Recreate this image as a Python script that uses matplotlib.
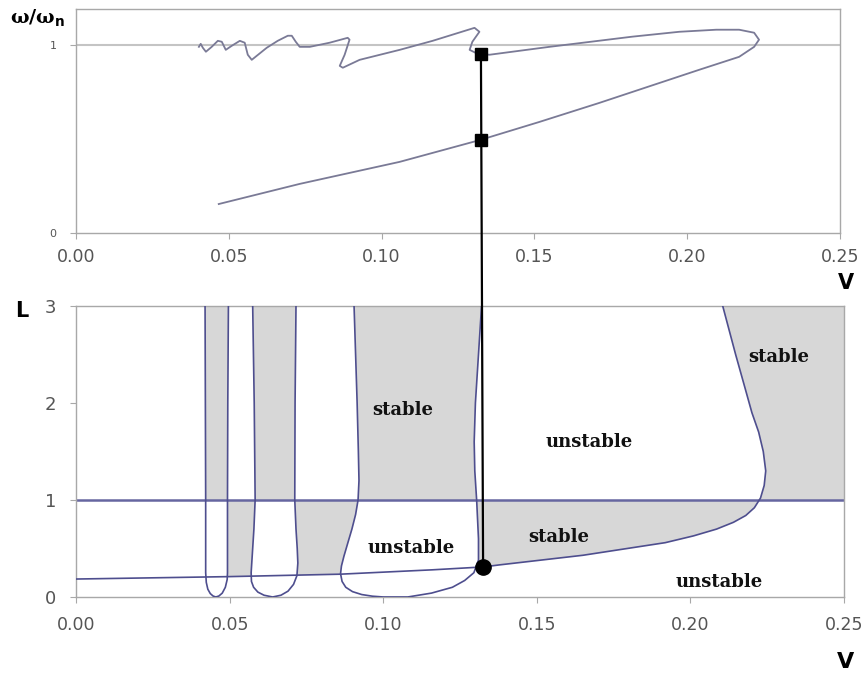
import numpy as np
import matplotlib
matplotlib.use('Agg')
import matplotlib.pyplot as plt
from matplotlib.patches import ConnectionPatch, Polygon

# top chart: w/wn along the loop (one path)
freq_V = [0.0467, 0.0732, 0.1059, 0.1324, 0.1516, 0.1712, 0.2039, 0.2170, 0.2219, 0.2235,
          0.2219, 0.2170, 0.2095, 0.1974, 0.1820, 0.1549, 0.1353, 0.1314, 0.1288, 0.1297,
          0.1320, 0.1304, 0.1167, 0.1059, 0.0928, 0.0873, 0.0863, 0.0879, 0.0895, 0.0889,
          0.0830, 0.0765, 0.0732, 0.0719, 0.0706, 0.0693, 0.0660, 0.0624, 0.0575, 0.0562,
          0.0552, 0.0536, 0.0510, 0.0490, 0.0477, 0.0464, 0.0444, 0.0425, 0.0415, 0.0408, 0.0402]
freq_w = [0.154, 0.261, 0.378, 0.495, 0.590, 0.691, 0.867, 0.936, 0.989, 1.027,
          1.064, 1.080, 1.080, 1.069, 1.043, 0.989, 0.947, 0.952, 0.973, 1.016,
          1.069, 1.090, 1.021, 0.973, 0.920, 0.878, 0.888, 0.947, 1.027, 1.037,
          1.011, 0.989, 0.989, 1.016, 1.048, 1.048, 1.021, 0.984, 0.920, 0.947,
          1.011, 1.021, 0.995, 0.973, 1.016, 1.021, 0.989, 0.963, 0.984, 1.005, 0.989]

# critical point
crit_V = 0.1325
crit_w = [0.95, 0.495]
crit_L = 0.31

# bottom chart: stability boundaries in the V-L plane
loop1_V = [0.0420, 0.0421, 0.0422, 0.0422, 0.0424, 0.0429, 0.0437, 0.0446, 0.0455, 0.0465,
           0.0476, 0.0486, 0.0492, 0.0493, 0.0493, 0.0494, 0.0496]
loop1_L = [3.0, 2.0, 1.0, 0.25, 0.15, 0.08, 0.035, 0.01, 0.0, 0.01, 0.04, 0.10, 0.18, 0.25,
           1.0, 2.0, 3.0]

loop2_V = [0.0575, 0.0580, 0.0583, 0.0579, 0.0574, 0.0570, 0.0571, 0.0578, 0.0592, 0.0612,
           0.0640, 0.0667, 0.0690, 0.0708, 0.0719, 0.0722, 0.0720, 0.0716, 0.0712, 0.0713,
           0.0716]
loop2_L = [3.0, 2.0, 1.0, 0.7, 0.45, 0.25, 0.16, 0.10, 0.05, 0.018, 0.0, 0.018, 0.06, 0.13,
           0.22, 0.35, 0.5, 0.7, 1.0, 2.0, 3.0]

loop3_V = [0.0905, 0.0910, 0.0915, 0.0919, 0.0921, 0.0918, 0.0910, 0.0898, 0.0884, 0.0872,
           0.0864, 0.0861, 0.0866, 0.0878, 0.0900, 0.0930, 0.0965, 0.1000, 0.1080, 0.1157,
           0.1225, 0.1265, 0.1295, 0.1310, 0.1310, 0.1304, 0.1298, 0.1296, 0.1300, 0.1310,
           0.1320]
loop3_L = [3.0, 2.5, 2.0, 1.5, 1.2, 1.0, 0.85, 0.7, 0.55, 0.42, 0.32, 0.24, 0.16, 0.10,
           0.055, 0.025, 0.008, 0.0, 0.0, 0.04, 0.1, 0.17, 0.25, 0.38, 0.6, 1.0, 1.3, 1.6,
           2.0, 2.5, 3.0]

bound_V = [0.0, 0.05, 0.086, 0.116, 0.1327, 0.1376, 0.165, 0.1918, 0.2010, 0.2085, 0.2140,
           0.2180, 0.2208, 0.2228, 0.2240, 0.2245, 0.2237, 0.2222, 0.2200, 0.2178, 0.2147,
           0.2105]
bound_L = [0.185, 0.21, 0.235, 0.28, 0.31, 0.33, 0.43, 0.56, 0.63, 0.70, 0.77, 0.84, 0.92,
           1.02, 1.15, 1.3, 1.5, 1.7, 1.9, 2.15, 2.5, 3.0]

L_line = 1.0

labels = [("stable", 0.1065, 1.93), ("unstable", 0.1670, 1.60), ("stable", 0.2288, 2.47),
          ("unstable", 0.1092, 0.505), ("stable", 0.1572, 0.62), ("unstable", 0.2095, 0.155)]

x_ticks = [0.00, 0.05, 0.10, 0.15, 0.20, 0.25]

BND = np.array(bound_V), np.array(bound_L)


def branches(V, L):
    i = int(np.argmin(L))
    left = (np.array(V[:i + 1])[::-1], np.array(L[:i + 1])[::-1])
    right = (np.array(V[i:]), np.array(L[i:]))
    return left, right


def seg(br, lo, hi):
    V, L = br
    m = (L > lo) & (L < hi)
    Ls = np.concatenate([[lo], L[m], [hi]])
    Vs = np.concatenate([[np.interp(lo, L, V)], V[m], [np.interp(hi, L, V)]])
    return np.column_stack([Vs, Ls])


def meet(br):
    # L where a branch crosses the lower boundary line
    V, L = br
    l = 0.25
    for _ in range(6):
        l = np.interp(np.interp(l, L, V), BND[0], BND[1])
    return l


fig = plt.figure(figsize=(8.65, 6.77), dpi=100)
ax1 = fig.add_axes([0.0879, 0.6558, 0.8832, 0.3309])
ax2 = fig.add_axes([0.0879, 0.1182, 0.8879, 0.4298])

frame = '#a8a8a8'
tickc = '#555555'
navy = '#4e4e8e'

# ---- top
ax1.axhline(1.0, color='#c4c4c4', lw=1.5, zorder=1)
ax1.plot(freq_V, freq_w, color='#7a7a96', lw=1.3, zorder=2)
ax1.plot([crit_V] * 2, crit_w, 's', color='k', ms=9, zorder=4)
ax1.set_xlim(0, 0.25)
ax1.set_ylim(0, 1.19)
ax1.set_xticks(x_ticks)
ax1.set_xticklabels(['%.2f' % t for t in x_ticks])
ax1.set_yticks([0, 1])
ax1.tick_params(axis='x', labelsize=12.5, colors=frame, labelcolor=tickc, length=4, pad=7)
ax1.tick_params(axis='y', labelsize=8, colors=frame, labelcolor=tickc, length=4, pad=10)

# ---- bottom
l1L, l1R = branches(loop1_V, loop1_L)
l2L, l2R = branches(loop2_V, loop2_L)
l3L, l3R = branches(loop3_V, loop3_L)
polys = [
    np.vstack([seg(l1L, 1, 3), seg(l1R, 1, 3)[::-1]]),
    np.vstack([seg(l2L, 1, 3), seg(l2R, 1, 3)[::-1]]),
    np.vstack([seg(l3L, 1, 3), seg(l3R, 1, 3)[::-1]]),
    np.vstack([seg(BND, 1, 3), [[0.25, 3], [0.25, 1]]]),
    np.vstack([seg(l1R, meet(l1R), 1), seg(l2L, meet(l2L), 1)[::-1]]),
    np.vstack([seg(l2R, meet(l2R), 1), seg(l3L, meet(l3L), 1)[::-1]]),
    np.vstack([seg(l3R, meet(l3R), 1), seg(BND, meet(l3R), 1)[::-1]]),
]
for p in polys:
    ax2.add_patch(Polygon(p, closed=True, fc='#d7d7d7', ec='none', zorder=1))

ax2.axhline(L_line, color='#6666a0', lw=1.8, zorder=2)
for V, L in [(loop1_V, loop1_L), (loop2_V, loop2_L), (loop3_V, loop3_L), (bound_V, bound_L)]:
    ax2.plot(V, L, color=navy, lw=1.2, zorder=3)
ax2.plot([crit_V], [crit_L], 'o', color='k', ms=11, zorder=4)

for txt, v, l in labels:
    ax2.text(v, l, txt, ha='center', va='center', fontsize=13, fontweight='bold',
             family='DejaVu Serif', color='#111111', zorder=5)

ax2.set_xlim(0, 0.25)
ax2.set_ylim(0, 3)
ax2.set_xticks(x_ticks)
ax2.set_xticklabels(['%.2f' % t for t in x_ticks])
ax2.set_yticks([0, 1, 2, 3])
ax2.tick_params(axis='x', labelsize=12.5, colors=frame, labelcolor=tickc, length=4, pad=10)
ax2.tick_params(axis='y', labelsize=13, colors=frame, labelcolor=tickc, length=4, pad=10)

for ax in (ax1, ax2):
    for s in ax.spines.values():
        s.set_color(frame)
        s.set_linewidth(1.0)

# vertical line joining the critical points
con = ConnectionPatch(xyA=(crit_V, crit_w[0]), coordsA='data', axesA=ax1,
                      xyB=(crit_V, crit_L), coordsB='data', axesB=ax2,
                      color='k', lw=1.6, zorder=3)
fig.add_artist(con)

# axis names
fig.text(10 / 865, 1 - 18 / 677, 'ω/ω$_\\mathbf{n}$', fontsize=14, fontweight='bold',
         family='DejaVu Serif', va='center', ha='left')
fig.text(846 / 865, 1 - 283 / 677, 'V', fontsize=15, fontweight='bold', ha='center', va='center')
fig.text(22 / 865, 1 - 311 / 677, 'L', fontsize=15, fontweight='bold', ha='center', va='center')
fig.text(846 / 865, 1 - 662 / 677, 'V', fontsize=16, fontweight='bold', ha='center', va='center')

fig.savefig('out.png', dpi=100)
